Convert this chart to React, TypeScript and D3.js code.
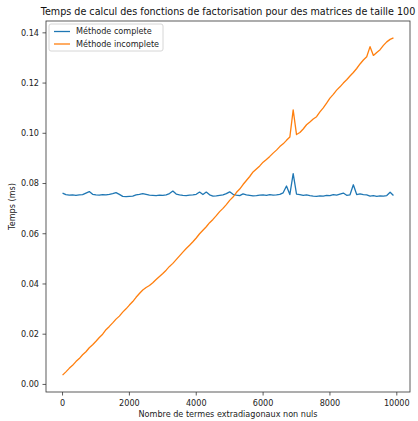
import React from 'react';
import * as d3 from 'd3';

// pas entre deux mesures (nombre de termes extradiagonaux)
const pas = 100;

// Méthode complete (ms)
const tempsComplete = [
  0.0762, 0.0756, 0.0754, 0.0755, 0.0753, 0.0755, 0.0756, 0.0762, 0.0768, 0.0757,
  0.0755, 0.0754, 0.0756, 0.0755, 0.0757, 0.0760, 0.0764, 0.0757, 0.0749, 0.0748,
  0.0749, 0.0750, 0.0755, 0.0757, 0.0760, 0.0757, 0.0754, 0.0753, 0.0752, 0.0754,
  0.0753, 0.0755, 0.0760, 0.0770, 0.0758, 0.0755, 0.0753, 0.0752, 0.0754, 0.0755,
  0.0757, 0.0766, 0.0756, 0.0766, 0.0755, 0.0750, 0.0751, 0.0753, 0.0755, 0.0760,
  0.0767, 0.0757, 0.0754, 0.0752, 0.0759, 0.0755, 0.0753, 0.0751, 0.0752, 0.0754,
  0.0755, 0.0753, 0.0756, 0.0754, 0.0755, 0.0757, 0.0763, 0.0790, 0.0756, 0.0839,
  0.0758, 0.0756, 0.0753, 0.0755, 0.0752, 0.0750, 0.0749, 0.0751, 0.0750, 0.0753,
  0.0752, 0.0756, 0.0754, 0.0758, 0.0762, 0.0753, 0.0755, 0.0795, 0.0756, 0.0759,
  0.0756, 0.0755, 0.0750, 0.0752, 0.0749, 0.0751, 0.0750, 0.0752, 0.0765, 0.0752,
];

// Méthode incomplete (ms)
const tempsIncomplete = [
  0.0037, 0.0050, 0.0064, 0.0076, 0.0091, 0.0103, 0.0118, 0.0130, 0.0146, 0.0158,
  0.0172, 0.0187, 0.0200, 0.0218, 0.0231, 0.0245, 0.0260, 0.0272, 0.0288, 0.0301,
  0.0316, 0.0330, 0.0347, 0.0362, 0.0376, 0.0386, 0.0394, 0.0405, 0.0418, 0.0430,
  0.0442, 0.0455, 0.0470, 0.0482, 0.0497, 0.0512, 0.0527, 0.0541, 0.0554, 0.0568,
  0.0583, 0.0600, 0.0614, 0.0628, 0.0644, 0.0657, 0.0672, 0.0688, 0.0701, 0.0716,
  0.0733, 0.0746, 0.0764, 0.0778, 0.0796, 0.0812, 0.0828, 0.0846, 0.0858, 0.0870,
  0.0885, 0.0896, 0.0908, 0.0921, 0.0933, 0.0947, 0.0958, 0.0972, 0.0985, 0.1093,
  0.0995, 0.1003, 0.1017, 0.1034, 0.1045, 0.1057, 0.1066, 0.1085, 0.1101, 0.1120,
  0.1140, 0.1155, 0.1172, 0.1185, 0.1200, 0.1213, 0.1228, 0.1242, 0.1258, 0.1276,
  0.1292, 0.1305, 0.1345, 0.1310, 0.1322, 0.1333, 0.1350, 0.1364, 0.1374, 0.1380,
];

const xTicks = [0, 2000, 4000, 6000, 8000, 10000];
const yTicks = [0.0, 0.02, 0.04, 0.06, 0.08, 0.1, 0.12, 0.14];

const series = [
  { nom: 'Méthode complete', valeurs: tempsComplete, couleur: '#1f77b4' },
  { nom: 'Méthode incomplete', valeurs: tempsIncomplete, couleur: '#ff7f0e' },
];

const W = 418;
const H = 421;
const margin = { top: 21, right: 8, bottom: 29, left: 46 };
const police = 'DejaVu Sans, sans-serif';
const fs = 8.1;

export default function App() {
  const innerR = W - margin.right;
  const innerB = H - margin.bottom;

  // marges de 5% comme matplotlib
  const xMax = (tempsComplete.length - 1) * pas;
  const xPad = xMax * 0.05;
  const x = d3.scaleLinear().domain([-xPad, xMax + xPad]).range([margin.left, innerR]);

  const allVals = [...tempsComplete, ...tempsIncomplete];
  const [yMin, yMax] = d3.extent(allVals) as [number, number];
  const yPad = (yMax - yMin) * 0.05;
  const y = d3.scaleLinear().domain([yMin - yPad, yMax + yPad]).range([innerB, margin.top]);

  const line = d3
    .line<number>()
    .x((_, i) => x(i * pas))
    .y((d) => y(d));

  return (
    <div style={{ position: 'absolute', left: 0, top: 0 }}>
      <svg width={W} height={H} style={{ display: 'block', background: '#fff' }}>
        {/* courbes */}
        {series.map((s) => (
          <path
            key={s.nom}
            d={line(s.valeurs) ?? ''}
            fill="none"
            stroke={s.couleur}
            strokeWidth={1.3}
            strokeLinejoin="round"
          />
        ))}

        {/* cadre */}
        <rect
          x={margin.left}
          y={margin.top}
          width={innerR - margin.left}
          height={innerB - margin.top}
          fill="none"
          stroke="#333"
          strokeWidth={0.8}
        />

        {/* axe X */}
        {xTicks.map((t) => (
          <g key={t} transform={`translate(${x(t)},${innerB})`}>
            <line y2={3.5} stroke="#333" strokeWidth={0.8} />
            <text y={13.5} textAnchor="middle" fontSize={fs} fontFamily={police} fill="#222">
              {t}
            </text>
          </g>
        ))}
        <text
          x={(margin.left + innerR) / 2}
          y={417}
          textAnchor="middle"
          fontSize={fs}
          fontFamily={police}
          fill="#222"
        >
          Nombre de termes extradiagonaux non nuls
        </text>

        {/* axe Y */}
        {yTicks.map((t) => (
          <g key={t} transform={`translate(${margin.left},${y(t)})`}>
            <line x2={-3.5} stroke="#333" strokeWidth={0.8} />
            <text x={-7} dy="0.35em" textAnchor="end" fontSize={fs} fontFamily={police} fill="#222">
              {t.toFixed(2)}
            </text>
          </g>
        ))}
        <text
          transform={`translate(15,${(margin.top + innerB) / 2}) rotate(-90)`}
          textAnchor="middle"
          fontSize={fs}
          fontFamily={police}
          fill="#222"
        >
          Temps (ms)
        </text>

        {/* titre */}
        <text
          x={(margin.left + innerR) / 2}
          y={15}
          textAnchor="middle"
          fontSize={9.6}
          fontFamily={police}
          fill="#111"
        >
          Temps de calcul des fonctions de factorisation pour des matrices de taille 100
        </text>

        {/* légende */}
        <g transform={`translate(${margin.left + 3},${margin.top + 3})`}>
          <rect width={114} height={27} rx={2} fill="#fff" fillOpacity={0.8} stroke="#ccc" strokeWidth={0.8} />
          {series.map((s, i) => (
            <g key={s.nom} transform={`translate(0,${7.5 + i * 12.5})`}>
              <line x1={5} x2={21} stroke={s.couleur} strokeWidth={1.3} />
              <text x={27} dy="0.35em" fontSize={fs} fontFamily={police} fill="#222">
                {s.nom}
              </text>
            </g>
          ))}
        </g>
      </svg>
    </div>
  );
}
